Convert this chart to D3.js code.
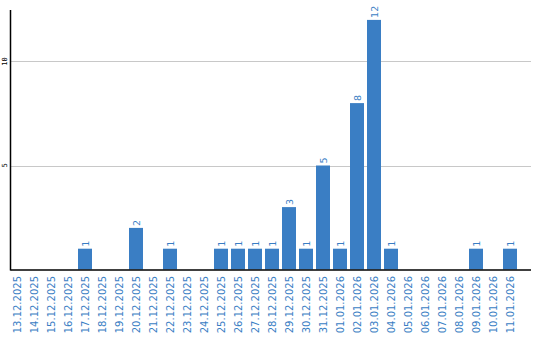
<!DOCTYPE html>
<html lang="en">
<head>
  <meta charset="UTF-8">
  <title>Daily counts</title>
  <script src="https://d3js.org/d3.v7.min.js"></script>
  <style>
    body { margin: 0; background: #fff; }
    svg { display: block; }
  </style>
</head>
<body>
  <div id="chart"></div>
  <script>
    // dates shown on the x axis
    var dates = [
      "13.12.2025", "14.12.2025", "15.12.2025", "16.12.2025", "17.12.2025",
      "18.12.2025", "19.12.2025", "20.12.2025", "21.12.2025", "22.12.2025",
      "23.12.2025", "24.12.2025", "25.12.2025", "26.12.2025", "27.12.2025",
      "28.12.2025", "29.12.2025", "30.12.2025", "31.12.2025", "01.01.2026",
      "02.01.2026", "03.01.2026", "04.01.2026", "05.01.2026", "06.01.2026",
      "07.01.2026", "08.01.2026", "09.01.2026", "10.01.2026", "11.01.2026"
    ];
    var counts = [
      0, 0, 0, 0, 1,
      0, 0, 2, 0, 1,
      0, 0, 1, 1, 1,
      1, 3, 1, 5, 1,
      8, 12, 1, 0, 0,
      0, 0, 1, 0, 1
    ];
    var yTicks = [5, 10];

    var width = 540, height = 340;
    var left = 10.5, baseY = 269.5, axisTop = 10, right = 531;

    var svg = d3.select("#chart").append("svg")
      .attr("width", width)
      .attr("height", height);

    var x = d3.scaleBand()
      .domain(dates)
      .range([10, 517])
      .paddingInner(3 / 17)
      .paddingOuter(0);

    var y = d3.scaleLinear()
      .domain([0, 12.5])
      .range([baseY, baseY - 260]);

    // grid lines
    svg.append("g").selectAll("line")
      .data(yTicks)
      .enter().append("line")
      .attr("x1", left)
      .attr("x2", right)
      .attr("y1", function(d) { return Math.round(y(d)) + 0.5; })
      .attr("y2", function(d) { return Math.round(y(d)) + 0.5; })
      .attr("stroke", "#c8c8c8")
      .attr("stroke-width", 1);

    // y tick labels (rotated)
    svg.append("g").selectAll("text")
      .data(yTicks)
      .enter().append("text")
      .attr("transform", function(d) { return "translate(7," + y(d) + ") rotate(-90)"; })
      .attr("text-anchor", "middle")
      .attr("font-family", "DejaVu Sans Mono")
      .attr("font-size", 7)
      .attr("fill", "#000")
      .text(function(d) { return d; });

    // bars
    svg.append("g").selectAll("rect")
      .data(dates.filter(function(d, i) { return counts[i] > 0; }))
      .enter().append("rect")
      .attr("x", function(d) { return x(d); })
      .attr("width", x.bandwidth())
      .attr("y", function(d) { return y(counts[dates.indexOf(d)]); })
      .attr("height", function(d) { return baseY - y(counts[dates.indexOf(d)]); })
      .attr("fill", "#3a7ec4");

    // value labels
    svg.append("g").selectAll("text")
      .data(dates.filter(function(d, i) { return counts[i] > 0; }))
      .enter().append("text")
      .attr("transform", function(d) {
        var cx = x(d) + x.bandwidth() / 2 + 3.5;
        return "translate(" + cx + "," + (y(counts[dates.indexOf(d)]) - 2) + ") rotate(-90)";
      })
      .attr("text-anchor", "start")
      .attr("font-family", "DejaVu Sans")
      .attr("font-size", 9.5)
      .attr("fill", "#3a7ec4")
      .text(function(d) { return counts[dates.indexOf(d)]; });

    // x labels
    svg.append("g").selectAll("text")
      .data(dates)
      .enter().append("text")
      .attr("transform", function(d) {
        var cx = x(d) + x.bandwidth() / 2 + 3.5;
        return "translate(" + cx + ",276) rotate(-90)";
      })
      .attr("text-anchor", "end")
      .attr("font-family", "DejaVu Sans")
      .attr("font-size", 10)
      .attr("fill", "#3a7ec4")
      .text(function(d) { return d; });

    // axes lines
    svg.append("line")
      .attr("x1", left).attr("x2", left)
      .attr("y1", axisTop).attr("y2", baseY + 1)
      .attr("stroke", "#000").attr("stroke-width", 1.5);
    svg.append("line")
      .attr("x1", left).attr("x2", right)
      .attr("y1", baseY + 0.5).attr("y2", baseY + 0.5)
      .attr("stroke", "#000").attr("stroke-width", 1.5);
  </script>
</body>
</html>
